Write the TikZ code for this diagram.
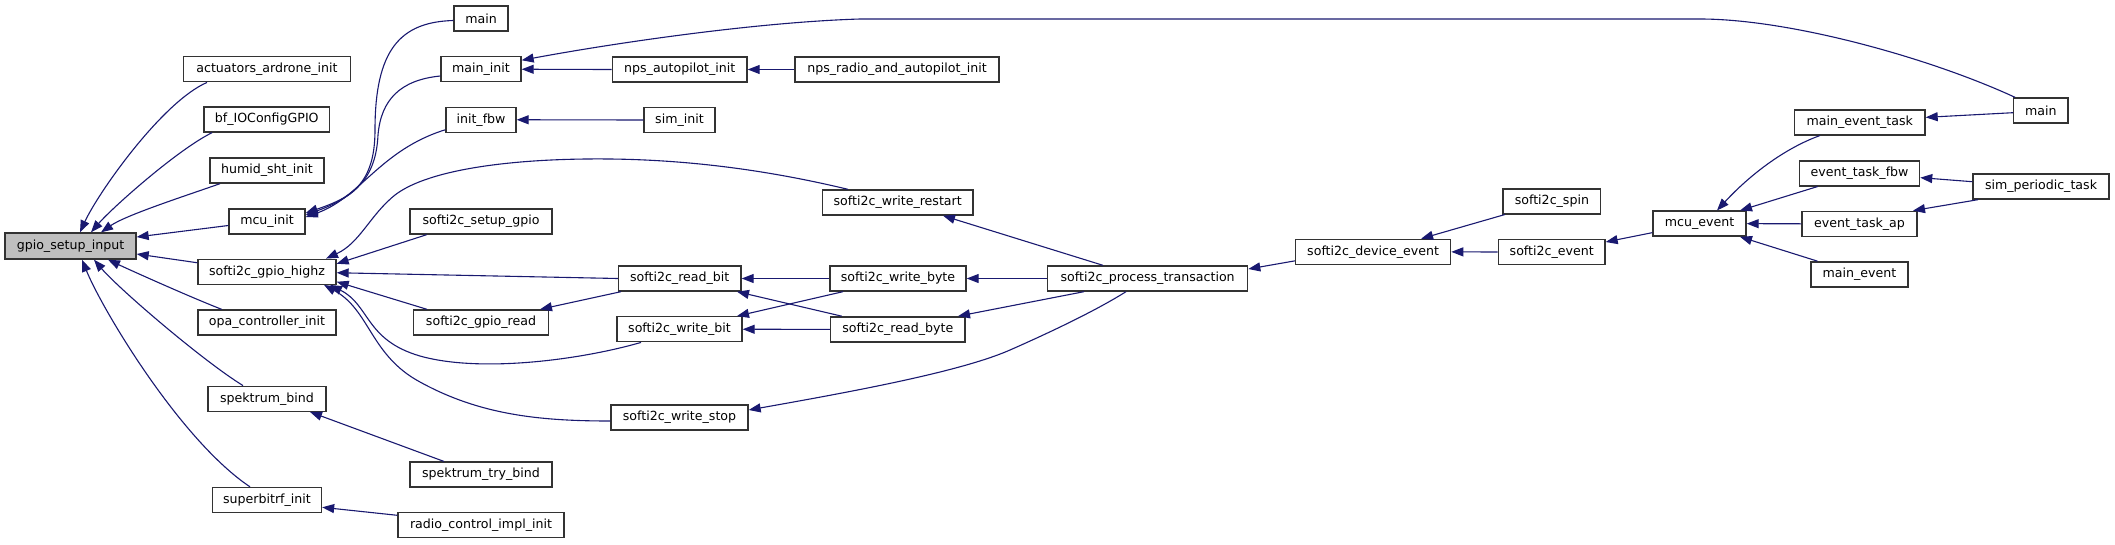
\documentclass[tikz,border=0pt]{standalone}
\usepackage{fontspec}
\setmainfont{DejaVu Sans}
\usetikzlibrary{arrows.meta}
\definecolor{edgecol}{HTML}{191970}
\definecolor{bordercol}{HTML}{333333}
\definecolor{rootfill}{HTML}{BFBFBF}
\tikzset{
  fn/.style={draw=bordercol, line width=1.35pt, fill=white, inner sep=0pt, minimum height=25pt,
    font=\fontsize{12.6}{15}\selectfont},
  root/.style={fn, fill=rootfill, minimum height=26pt},
  edge/.style={draw=edgecol, line width=1.1pt, {Triangle[length=12pt,width=9pt]}-},
}
\begin{document}
\begin{tikzpicture}[x=1pt,y=-1pt]
\useasboundingbox[fill=white] (0,0) rectangle (2115,544);
% column 0
\node[root, minimum width=131pt] (gpio) at (70.5,246) {gpio\_setup\_input};
% column 1
\node[fn, minimum width=167pt] (act) at (267,69.25) {actuators\_ardrone\_init};
\node[fn, minimum width=125.5pt] (bf) at (266.75,119.5) {bf\_IOConfigGPIO};
\node[fn, minimum width=114pt] (humid) at (267,170.5) {humid\_sht\_init};
\node[fn, minimum width=76pt] (mcuinit) at (267,221.5) {mcu\_init};
\node[fn, minimum width=138pt] (highz) at (267,271.75) {softi2c\_gpio\_highz};
\node[fn, minimum width=138pt] (opa) at (267,322.5) {opa\_controller\_init};
\node[fn, minimum width=118pt] (spbind) at (267,398.75) {spektrum\_bind};
\node[fn, minimum width=109pt] (sbrf) at (267,500) {superbitrf\_init};
% column 2
\node[fn, minimum width=54pt] (mainl) at (481,18.5) {main};
\node[fn, minimum width=80pt] (maininit) at (481,69.25) {main\_init};
\node[fn, minimum width=70pt] (initfbw) at (481,119.75) {init\_fbw};
\node[fn, minimum width=142pt] (setup) at (481,221.5) {softi2c\_setup\_gpio};
\node[fn, minimum width=134.5pt] (gread) at (481,322.5) {softi2c\_gpio\_read};
\node[fn, minimum width=142pt] (trybind) at (481,474.6) {spektrum\_try\_bind};
\node[fn, minimum width=166pt] (radio) at (481,525.3) {radio\_control\_impl\_init};
% column 3
\node[fn, minimum width=134.6pt] (npsap) at (679.7,69.5) {nps\_autopilot\_init};
\node[fn, minimum width=71pt] (siminit) at (679.5,120) {sim\_init};
\node[fn, minimum width=122.5pt] (rbit) at (679.75,278.5) {softi2c\_read\_bit};
\node[fn, minimum width=125pt] (wbit) at (679.5,329.25) {softi2c\_write\_bit};
\node[fn, minimum width=137pt] (wstop) at (679.5,417.35) {softi2c\_write\_stop};
% column 4
\node[fn, minimum width=204pt] (npsradio) at (897,69.5) {nps\_radio\_and\_autopilot\_init};
\node[fn, minimum width=150.5pt] (wrestart) at (897.75,202.5) {softi2c\_write\_restart};
\node[fn, minimum width=136pt] (wbyte) at (898,278.5) {softi2c\_write\_byte};
\node[fn, minimum width=134.5pt] (rbyte) at (897.75,329.35) {softi2c\_read\_byte};
% column 5+
\node[fn, minimum width=200pt] (ptx) at (1147.65,278.5) {softi2c\_process\_transaction};
\node[fn, minimum width=155pt] (devev) at (1373.1,251.85) {softi2c\_device\_event};
\node[fn, minimum width=97.8pt] (spin) at (1551.9,201.35) {softi2c\_spin};
\node[fn, minimum width=106.6pt] (sevent) at (1551.7,252) {softi2c\_event};
\node[fn, minimum width=93pt] (mcuev) at (1699.5,223.65) {mcu\_event};
\node[fn, minimum width=130.5pt] (metask) at (1859.75,122.35) {main\_event\_task};
\node[fn, minimum width=120pt] (etfbw) at (1859.6,173.35) {event\_task\_fbw};
\node[fn, minimum width=115pt] (etap) at (1859.5,223.8) {event\_task\_ap};
\node[fn, minimum width=97pt] (mainev) at (1859.5,274.35) {main\_event};
\node[fn, minimum width=54.3pt] (mainr) at (2040.85,110.5) {main};
\node[fn, minimum width=136pt] (simper) at (2041,186.5) {sim\_periodic\_task};

% edges into gpio_setup_input
\draw[edge] ([xshift=9.5pt]gpio.north) .. controls (98,193) and (162,102) .. ([xshift=-60pt]act.south);
\draw[edge] ([xshift=20.5pt]gpio.north) .. controls (112,208) and (177,150) .. ([xshift=-54.75pt]bf.south);
\draw[edge] ([xshift=30.5pt]gpio.north) .. controls (126,215) and (185,196) .. ([xshift=-47pt]humid.south);
\draw[edge] ([yshift=9pt]gpio.east) -- ([yshift=-4pt]mcuinit.west);
\draw[edge] ([yshift=-8pt]gpio.east) -- ([yshift=9pt]highz.west);
\draw[edge] ([xshift=37.5pt]gpio.south) .. controls (130,270) and (190,297) .. ([xshift=-45.3pt]opa.north);
\draw[edge] ([xshift=23.5pt]gpio.south) .. controls (119,289) and (203,361) .. ([xshift=-24pt]spbind.north);
\draw[edge] ([xshift=11.5pt]gpio.south) .. controls (102,309) and (180,440) .. ([xshift=-17pt]sbrf.north);
% edges into mcu_init
\draw[edge] ([yshift=8.5pt]mcuinit.east) .. controls (350,198) and (375,185) .. (375,130) .. controls (375,50) and (400,22) .. ([yshift=-2pt]mainl.west);
\draw[edge] ([yshift=6.5pt]mcuinit.east) .. controls (355,197) and (376,178) .. (378,135) .. controls (381,100) and (400,80) .. ([yshift=-6.75pt]maininit.west);
\draw[edge] ([yshift=4.5pt]mcuinit.east) .. controls (360,198) and (380,150) .. ([yshift=-10pt]initfbw.west);
% main_init and friends
\draw[edge] ([yshift=9pt]maininit.east) .. controls (620,42) and (760,22) .. (860,19) -- (1700,19) .. controls (1790,19) and (1930,58) .. ([xshift=2pt]mainr.north west);
\draw[edge] (maininit.east) -- (npsap.west);
\draw[edge] (npsap.east) -- (npsradio.west);
\draw[edge] (initfbw.east) -- (siminit.west);
% edges into softi2c_gpio_highz
\draw[edge] ([xshift=59pt]highz.north) .. controls (360,243) and (370,215) .. (395,195) .. controls (430,168) and (520,158) .. (610,159) .. controls (700,160) and (780,173) .. ([xshift=-49.75pt]wrestart.north);
\draw[edge] ([yshift=8pt]highz.east) -- ([xshift=-54.3pt]setup.south);
\draw[edge] ([yshift=-1pt]highz.east) -- (rbit.west);
\draw[edge] ([yshift=-10pt]highz.east) -- ([xshift=-54pt]gread.north);
\draw[edge] ([xshift=63pt]highz.south) .. controls (370,305) and (365,340) .. (420,356) .. controls (480,373) and (580,360) .. ([xshift=-38.5pt]wbit.south);
\draw[edge] ([xshift=57pt]highz.south) .. controls (370,310) and (370,355) .. (420,382) .. controls (480,415) and (540,421) .. ([yshift=-3.65pt]wstop.west);
% bit level
\draw[edge] ([xshift=59pt]gread.north) -- ([xshift=-58.75pt]rbit.south);
\draw[edge] (rbit.east) -- (wbyte.west);
\draw[edge] ([xshift=57.25pt]rbit.south) -- ([xshift=-56pt]rbyte.north);
\draw[edge] ([xshift=57.5pt]wbit.north) -- ([xshift=-55pt]wbyte.south);
\draw[edge] (wbit.east) -- (rbyte.west);
% process transaction
\draw[edge] (wbyte.east) -- (ptx.west);
\draw[edge] ([xshift=60.25pt]rbyte.north) -- ([xshift=-63.65pt]ptx.south);
\draw[edge] ([xshift=45.25pt]wrestart.south) -- ([xshift=-44.65pt]ptx.north);
\draw[edge] ([yshift=7.35pt]wstop.east) .. controls (850,392) and (960,372) .. (1010,350) .. controls (1060,328) and (1100,308) .. ([xshift=-21.65pt]ptx.south);
\draw[edge] ([yshift=9.5pt]ptx.east) -- ([yshift=-9pt]devev.west);
\draw[edge] ([xshift=48pt]devev.north) -- ([xshift=-47pt]spin.south);
\draw[edge] (devev.east) -- (sevent.west);
\draw[edge] ([yshift=10pt]sevent.east) -- ([yshift=-9pt]mcuev.west);
% mcu_event callers
\draw[edge] ([xshift=17.5pt]mcuev.north) .. controls (1745,180) and (1780,150) .. ([xshift=-39.75pt]metask.south);
\draw[edge] ([xshift=40.5pt]mcuev.north) -- ([xshift=-42pt]etfbw.south);
\draw[edge] (mcuev.east) -- (etap.west);
\draw[edge] ([xshift=40.5pt]mcuev.south) -- ([xshift=-42pt]mainev.north);
\draw[edge] ([yshift=5pt]metask.east) -- ([yshift=-2.2pt]mainr.west);
\draw[edge] ([yshift=-4.3pt]etfbw.east) -- ([yshift=4.8pt]simper.west);
\draw[edge] ([xshift=53.5pt]etap.north) -- ([xshift=-63pt]simper.south);
% lower left
\draw[edge] ([xshift=43pt]spbind.south) -- ([xshift=-37pt]trybind.north);
\draw[edge] ([yshift=-7.3pt]sbrf.east) -- ([yshift=10pt]radio.west);
\end{tikzpicture}
\end{document}
